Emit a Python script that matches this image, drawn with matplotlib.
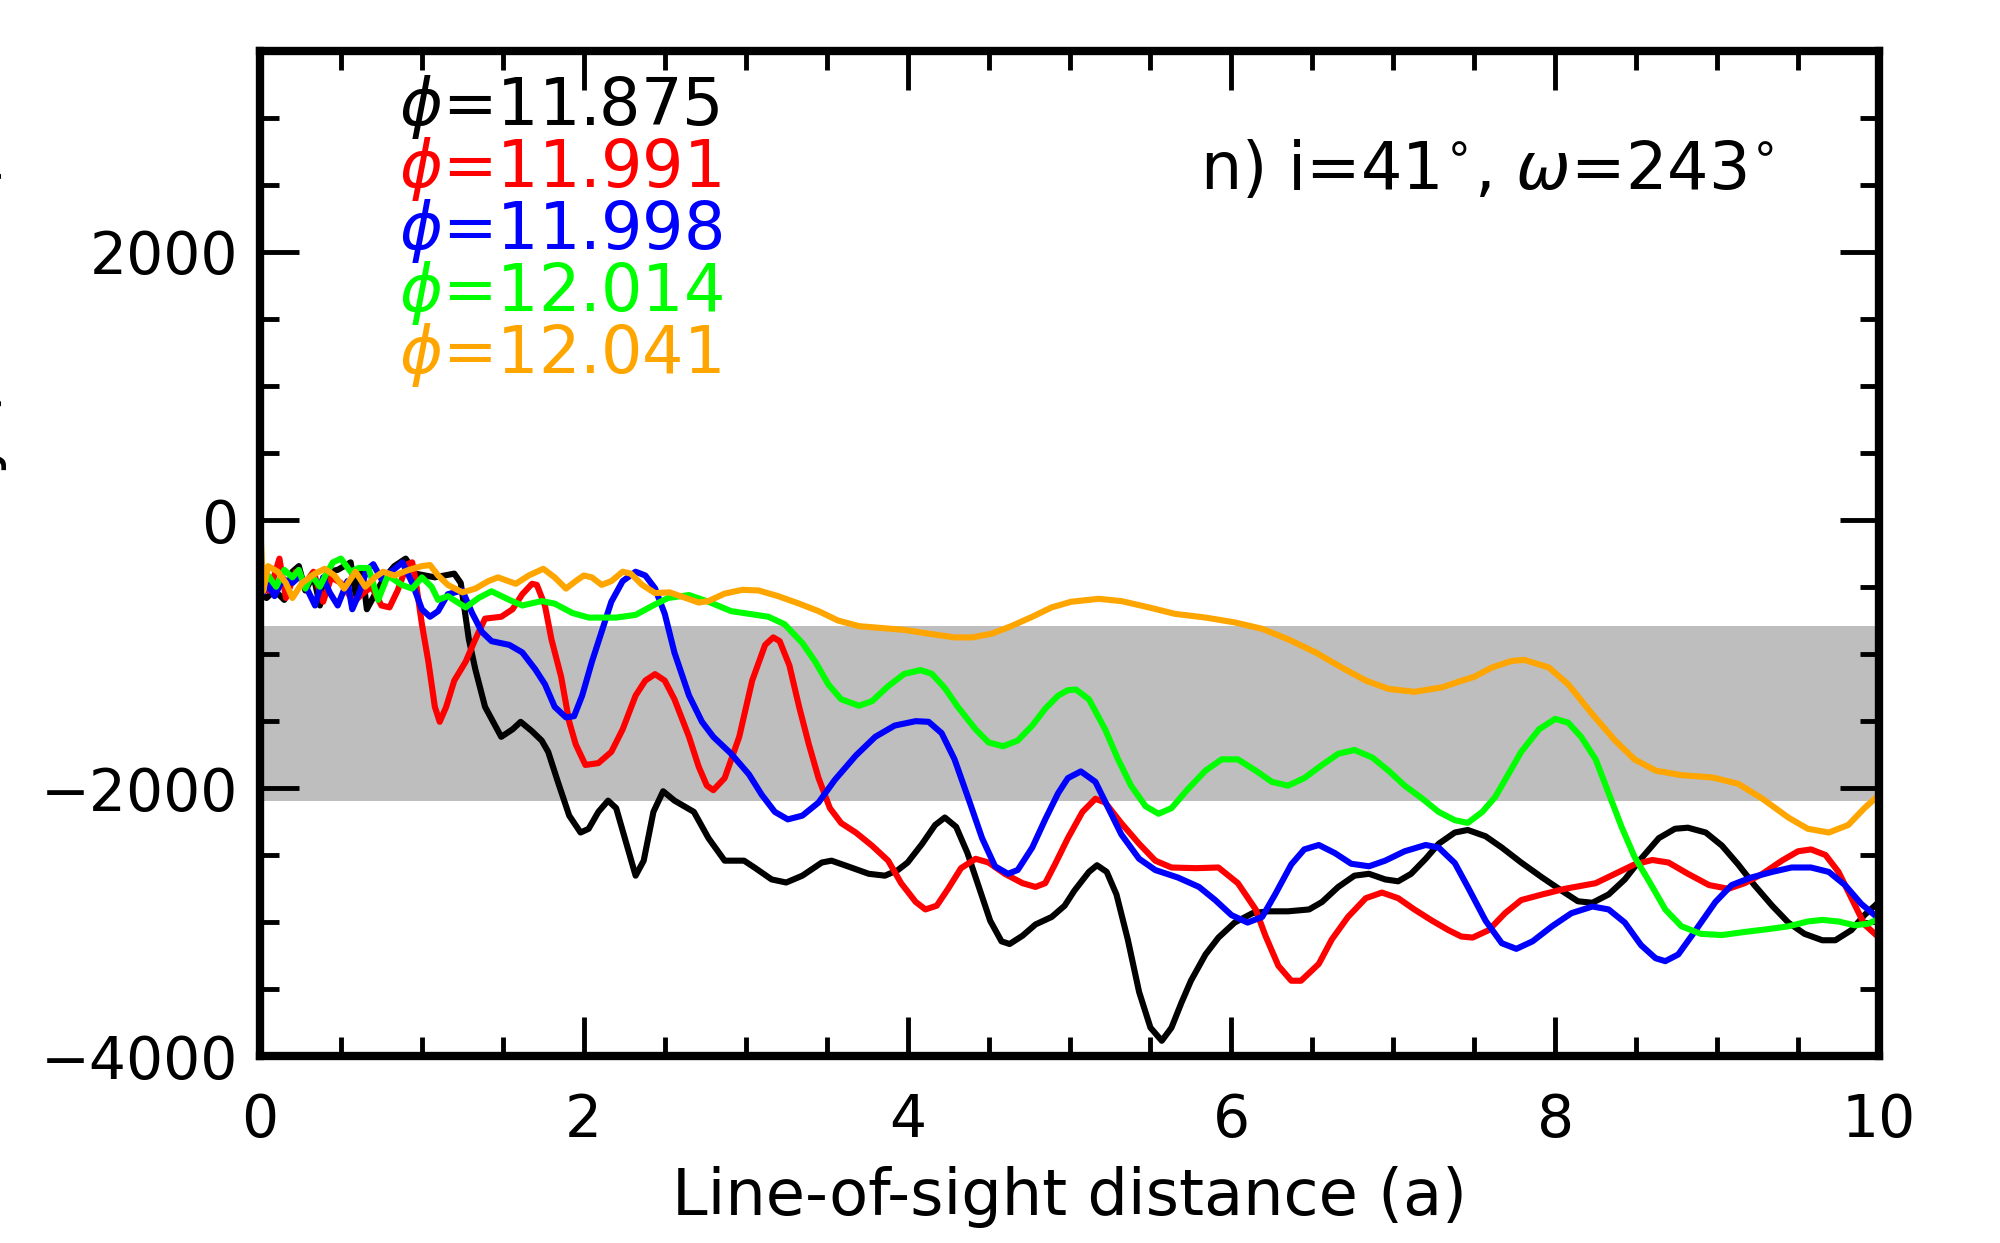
import matplotlib
matplotlib.use("Agg")
import matplotlib.pyplot as plt
from matplotlib.ticker import MultipleLocator

# (distance, value), one list per phase
black_pts = [(0.0, -554), (0.04, -582), (0.09, -526), (0.15, -596), (0.2, -386), (0.24, -344),
             (0.28, -526), (0.33, -414), (0.37, -638), (0.42, -386), (0.48, -372), (0.56, -316),
             (0.59, -554), (0.63, -358), (0.66, -666), (0.71, -554), (0.77, -428), (0.83, -344),
             (0.9, -288), (0.96, -400), (1.02, -414), (1.08, -428), (1.14, -414), (1.2, -400),
             (1.24, -470), (1.29, -890), (1.33, -1114), (1.39, -1394), (1.49, -1618), (1.56, -1562),
             (1.61, -1506), (1.68, -1576), (1.74, -1646), (1.78, -1730), (1.84, -1954), (1.91, -2206),
             (1.98, -2332), (2.03, -2304), (2.09, -2178), (2.15, -2094), (2.2, -2150), (2.26, -2402),
             (2.32, -2654), (2.37, -2542), (2.43, -2178), (2.49, -2024), (2.56, -2094), (2.68, -2178),
             (2.77, -2374), (2.87, -2542), (2.99, -2542), (3.06, -2598), (3.16, -2682), (3.25, -2705),
             (3.35, -2654), (3.47, -2556), (3.53, -2542), (3.63, -2584), (3.76, -2640), (3.86, -2654),
             (3.94, -2612), (4.0, -2556), (4.09, -2416), (4.17, -2276), (4.23, -2220), (4.3, -2290),
             (4.37, -2486), (4.44, -2738), (4.51, -2990), (4.58, -3144), (4.63, -3164), (4.71, -3102),
             (4.79, -3018), (4.89, -2962), (4.97, -2878), (5.03, -2766), (5.12, -2626), (5.17, -2576),
             (5.23, -2626), (5.29, -2794), (5.36, -3130), (5.43, -3522), (5.5, -3788), (5.57, -3886),
             (5.63, -3788), (5.69, -3606), (5.75, -3438), (5.84, -3242), (5.92, -3116), (6.02, -3004),
             (6.13, -2934), (6.23, -2920), (6.35, -2920), (6.48, -2906), (6.56, -2850), (6.66, -2738),
             (6.76, -2654), (6.85, -2640), (6.95, -2682), (7.03, -2696), (7.11, -2640), (7.2, -2528),
             (7.28, -2416), (7.38, -2332), (7.46, -2313), (7.57, -2360), (7.67, -2444), (7.79, -2556),
             (7.92, -2668), (8.04, -2766), (8.14, -2845), (8.23, -2856), (8.33, -2794), (8.43, -2682),
             (8.53, -2528), (8.64, -2374), (8.74, -2304), (8.82, -2296), (8.93, -2332), (9.03, -2430),
             (9.13, -2570), (9.23, -2724), (9.34, -2878), (9.44, -3004), (9.54, -3088), (9.65, -3136),
             (9.73, -3136), (9.83, -3060), (9.91, -2948), (10.0, -2850)]

red_pts = [(0.0, -526), (0.06, -526), (0.12, -288), (0.16, -582), (0.22, -386), (0.28, -470),
           (0.33, -386), (0.39, -610), (0.44, -428), (0.5, -470), (0.58, -610), (0.63, -554),
           (0.69, -498), (0.75, -638), (0.8, -652), (0.85, -526), (0.91, -330), (0.94, -316),
           (0.96, -442), (1.0, -778), (1.04, -1058), (1.08, -1394), (1.11, -1506), (1.15, -1394),
           (1.2, -1198), (1.27, -1058), (1.33, -890), (1.39, -736), (1.49, -722), (1.56, -666),
           (1.62, -554), (1.68, -476), (1.71, -484), (1.76, -638), (1.8, -890), (1.86, -1170),
           (1.91, -1506), (1.95, -1674), (2.01, -1828), (2.09, -1814), (2.17, -1730), (2.24, -1562),
           (2.32, -1310), (2.38, -1198), (2.44, -1150), (2.5, -1198), (2.56, -1338), (2.65, -1618),
           (2.71, -1842), (2.76, -1982), (2.8, -2016), (2.87, -1926), (2.96, -1618), (3.04, -1198),
           (3.12, -932), (3.17, -876), (3.21, -904), (3.27, -1086), (3.33, -1394), (3.39, -1674),
           (3.45, -1926), (3.52, -2150), (3.59, -2262), (3.68, -2332), (3.78, -2430), (3.88, -2542),
           (3.96, -2710), (4.05, -2850), (4.11, -2906), (4.18, -2878), (4.25, -2752), (4.33, -2598),
           (4.42, -2528), (4.5, -2556), (4.6, -2640), (4.71, -2710), (4.79, -2738), (4.85, -2710),
           (4.91, -2570), (4.99, -2374), (5.08, -2178), (5.16, -2080), (5.22, -2108), (5.32, -2262),
           (5.43, -2416), (5.53, -2542), (5.63, -2593), (5.78, -2598), (5.92, -2593), (6.04, -2710),
           (6.15, -2906), (6.21, -3102), (6.29, -3326), (6.37, -3438), (6.43, -3438), (6.54, -3312),
           (6.62, -3130), (6.72, -2962), (6.83, -2822), (6.93, -2780), (7.03, -2822), (7.13, -2906),
           (7.24, -2990), (7.34, -3060), (7.42, -3108), (7.49, -3116), (7.59, -3060), (7.69, -2934),
           (7.79, -2836), (7.92, -2794), (8.06, -2752), (8.25, -2710), (8.37, -2640), (8.49, -2570),
           (8.6, -2537), (8.7, -2556), (8.82, -2640), (8.95, -2724), (9.07, -2752), (9.17, -2710),
           (9.28, -2640), (9.4, -2542), (9.5, -2472), (9.58, -2458), (9.67, -2500), (9.75, -2626),
           (9.83, -2822), (9.91, -3018), (10.0, -3116)]

blue_pts = [(0.0, -568), (0.05, -484), (0.09, -568), (0.14, -442), (0.2, -470), (0.25, -414),
            (0.29, -512), (0.34, -638), (0.39, -428), (0.43, -540), (0.48, -638), (0.54, -456),
            (0.57, -666), (0.61, -554), (0.66, -372), (0.7, -330), (0.75, -442), (0.81, -386),
            (0.88, -316), (0.94, -470), (1.0, -666), (1.05, -722), (1.1, -680), (1.16, -554),
            (1.25, -526), (1.31, -694), (1.37, -834), (1.43, -904), (1.54, -932), (1.62, -988),
            (1.7, -1114), (1.76, -1226), (1.82, -1394), (1.89, -1473), (1.94, -1464), (1.99, -1310),
            (2.05, -1058), (2.11, -834), (2.17, -610), (2.24, -456), (2.32, -386), (2.38, -414),
            (2.44, -510), (2.5, -700), (2.56, -990), (2.65, -1310), (2.73, -1506), (2.8, -1618),
            (2.91, -1744), (3.02, -1898), (3.1, -2052), (3.18, -2178), (3.26, -2234), (3.35, -2206),
            (3.45, -2108), (3.55, -1940), (3.68, -1758), (3.8, -1618), (3.92, -1534), (4.05, -1501),
            (4.13, -1506), (4.21, -1590), (4.29, -1786), (4.38, -2094), (4.46, -2374), (4.54, -2584),
            (4.62, -2640), (4.68, -2612), (4.77, -2444), (4.85, -2234), (4.93, -2038), (4.99, -1926),
            (5.07, -1876), (5.16, -1954), (5.24, -2150), (5.32, -2346), (5.43, -2528), (5.53, -2612),
            (5.67, -2668), (5.8, -2738), (5.9, -2836), (6.0, -2948), (6.1, -3004), (6.19, -2962),
            (6.27, -2794), (6.37, -2570), (6.45, -2458), (6.54, -2425), (6.64, -2486), (6.74, -2565),
            (6.85, -2584), (6.95, -2542), (7.07, -2472), (7.2, -2425), (7.28, -2444), (7.38, -2560),
            (7.46, -2738), (7.57, -2990), (7.67, -3158), (7.76, -3200), (7.86, -3144), (7.98, -3032),
            (8.1, -2934), (8.23, -2884), (8.33, -2906), (8.43, -3004), (8.53, -3172), (8.62, -3270),
            (8.68, -3292), (8.76, -3242), (8.86, -3074), (8.99, -2850), (9.09, -2724), (9.21, -2668),
            (9.34, -2626), (9.46, -2593), (9.58, -2593), (9.69, -2626), (9.79, -2724), (9.89, -2864),
            (10.0, -2976)]

green_pts = [(0.0, -540), (0.05, -414), (0.1, -498), (0.15, -372), (0.2, -428), (0.24, -372),
             (0.28, -512), (0.32, -414), (0.37, -498), (0.41, -400), (0.45, -316), (0.5, -288),
             (0.56, -386), (0.61, -358), (0.67, -358), (0.73, -596), (0.79, -414), (0.875, -484),
             (0.94, -512), (1.0, -428), (1.06, -498), (1.1, -596), (1.16, -568), (1.27, -652),
             (1.35, -582), (1.43, -532), (1.54, -596), (1.62, -638), (1.74, -605), (1.82, -624),
             (1.93, -694), (2.03, -728), (2.2, -728), (2.32, -708), (2.44, -630), (2.52, -582),
             (2.65, -560), (2.77, -610), (2.91, -680), (3.02, -700), (3.14, -722), (3.24, -778),
             (3.35, -918), (3.43, -1058), (3.51, -1226), (3.59, -1338), (3.7, -1386), (3.78, -1352),
             (3.88, -1240), (3.98, -1148), (4.08, -1120), (4.15, -1148), (4.23, -1254), (4.31, -1394),
             (4.42, -1562), (4.5, -1660), (4.59, -1688), (4.68, -1646), (4.77, -1534), (4.85, -1408),
             (4.93, -1310), (4.99, -1270), (5.04, -1265), (5.12, -1338), (5.22, -1562), (5.3, -1786),
             (5.38, -1982), (5.47, -2136), (5.55, -2192), (5.63, -2150), (5.73, -2010), (5.84, -1870),
             (5.94, -1786), (6.04, -1786), (6.15, -1870), (6.25, -1954), (6.35, -1982), (6.45, -1926),
             (6.56, -1828), (6.66, -1744), (6.76, -1716), (6.87, -1772), (6.97, -1870), (7.07, -1982),
             (7.18, -2080), (7.28, -2178), (7.38, -2240), (7.46, -2260), (7.55, -2178), (7.63, -2066),
             (7.71, -1898), (7.79, -1730), (7.9, -1562), (8.0, -1484), (8.08, -1512), (8.16, -1618),
             (8.25, -1786), (8.33, -2038), (8.41, -2290), (8.49, -2514), (8.58, -2696), (8.68, -2906),
             (8.78, -3032), (8.9, -3088), (9.03, -3097), (9.17, -3074), (9.32, -3052), (9.44, -3032),
             (9.56, -2996), (9.65, -2984), (9.75, -2996), (9.85, -3024), (9.93, -3013), (10.0, -2976)]

orange_pts = [(0.0, 0), (0.02, -530), (0.05, -344), (0.11, -386), (0.16, -470), (0.2, -582),
              (0.26, -470), (0.34, -400), (0.4, -364), (0.46, -414), (0.52, -512), (0.59, -386),
              (0.65, -498), (0.71, -428), (0.76, -386), (0.83, -414), (0.92, -372), (1.0, -344),
              (1.05, -336), (1.1, -414), (1.16, -484), (1.25, -540), (1.33, -512), (1.41, -456),
              (1.47, -428), (1.58, -476), (1.66, -414), (1.75, -364), (1.82, -428), (1.89, -512),
              (1.95, -456), (2.0, -414), (2.05, -428), (2.11, -484), (2.17, -456), (2.24, -386),
              (2.29, -400), (2.36, -484), (2.44, -545), (2.53, -540), (2.63, -582), (2.71, -616),
              (2.77, -605), (2.87, -549), (2.98, -521), (3.08, -526), (3.2, -568), (3.33, -624),
              (3.45, -680), (3.57, -750), (3.7, -792), (3.84, -806), (3.98, -820), (4.13, -848),
              (4.29, -876), (4.4, -876), (4.52, -848), (4.64, -792), (4.77, -722), (4.89, -652),
              (5.01, -610), (5.18, -588), (5.32, -605), (5.49, -652), (5.65, -700), (5.84, -728),
              (6.02, -764), (6.19, -812), (6.35, -890), (6.52, -988), (6.68, -1100), (6.83, -1198),
              (6.97, -1260), (7.13, -1282), (7.3, -1249), (7.42, -1200), (7.5, -1170), (7.61, -1100),
              (7.73, -1052), (7.81, -1044), (7.96, -1100), (8.08, -1226), (8.23, -1450), (8.37, -1646),
              (8.49, -1786), (8.62, -1870), (8.78, -1904), (8.97, -1921), (9.13, -1968), (9.28, -2080),
              (9.44, -2220), (9.56, -2304), (9.69, -2332), (9.81, -2276), (9.91, -2150), (10.0, -2052)]

phases = ["11.875", "11.991", "11.998", "12.014", "12.041"]
colours = ["black", "#ff0000", "#0000ff", "#00ff00", "#ffa500"]
series = [black_pts, red_pts, blue_pts, green_pts, orange_pts]
band = (-2100, -790)

plt.rcParams["font.family"] = "DejaVu Sans"

fig = plt.figure(figsize=(20, 12.43), dpi=100)
ax = fig.add_axes([0.130, 0.1504, 0.8095, 0.8086])

ax.axhspan(band[0], band[1], color="#bebebe", lw=0, zorder=0)
for pts, c in zip(series, colours):
    xs = [p[0] for p in pts]
    ys = [p[1] for p in pts]
    ax.plot(xs, ys, color=c, lw=4.4, zorder=2, solid_joinstyle="round")

ax.set_xlim(0, 10)
ax.set_ylim(-4000, 3500)
ax.xaxis.set_major_locator(MultipleLocator(2))
ax.xaxis.set_minor_locator(MultipleLocator(0.5))
ax.yaxis.set_major_locator(MultipleLocator(2000))
ax.yaxis.set_minor_locator(MultipleLocator(500))
ax.tick_params(which="both", direction="in", top=True, right=True, width=3.5, labelsize=42)
ax.tick_params(which="major", length=28)
ax.tick_params(which="minor", length=14)
ax.tick_params(axis="x", pad=26)
ax.tick_params(axis="y", pad=16)
for s in ax.spines.values():
    s.set_linewidth(6)

ax.set_xlabel("Line-of-sight distance (a)", fontsize=46, labelpad=12)

for i, (ph, c) in enumerate(zip(phases, colours)):
    ax.text(0.086, 0.926 - i * 0.0617, r"$\phi$=" + ph, color=c, fontsize=47,
            transform=ax.transAxes, va="baseline", ha="left")

ax.text(0.935, 0.863, r"n) i=41$^{\circ}$, $\omega$=243$^{\circ}$", fontsize=47,
        transform=ax.transAxes, va="baseline", ha="right")

# y label is clipped by the left edge in the original
fig.text(0.005, 0.66, r"Velocity (km s$^{-1}$)", rotation=90, fontsize=44,
         ha="right", va="center")

fig.savefig("out.png", dpi=100)
